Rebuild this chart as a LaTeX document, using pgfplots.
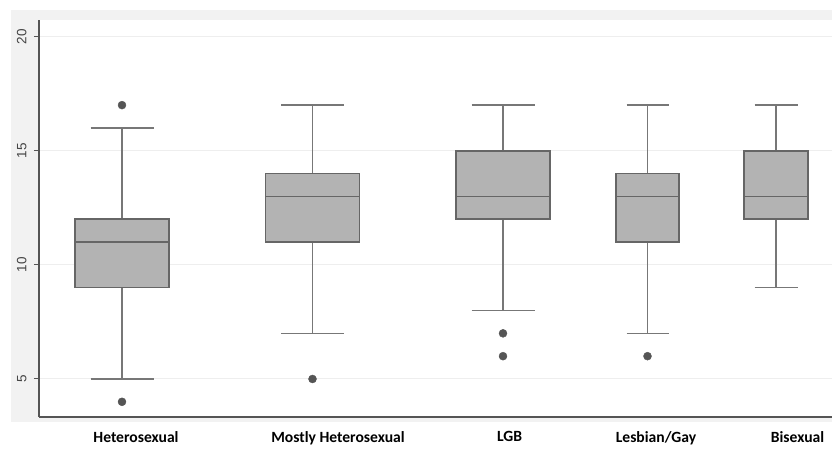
\documentclass[border=0pt]{standalone}
\usepackage{pgfplots}
\pgfplotsset{compat=1.18}
\usepgfplotslibrary{statistics}
\usepackage{fontspec}
\setmainfont{Liberation Sans}
\newfontfamily\calibri{Carlito}
\definecolor{bgray}{HTML}{F2F2F2}
\definecolor{boxfill}{HTML}{B3B3B3}
\definecolor{boxedge}{HTML}{666666}
\definecolor{whisk}{HTML}{777777}
\definecolor{dotc}{HTML}{555555}
\definecolor{gridc}{HTML}{EEEEEE}
\definecolor{axc}{HTML}{555555}
\definecolor{lblc}{HTML}{444444}
\begin{document}
\begin{tikzpicture}
\path[use as bounding box] (0pt,0pt) rectangle (832pt,448pt);
\fill[bgray] (11pt,26pt) rectangle (832pt,438pt);
\begin{axis}[
  at={(39pt,31pt)}, anchor=south west, scale only axis,
  width=793pt, height=397pt,
  xmin=0.39, xmax=8.32, ymin=3.335, ymax=20.73,
  axis background/.style={fill=white},
  axis x line=bottom, axis y line=left,
  axis line style={draw=axc, line width=1.2pt, -},
  xtick={1.36,3.38,5.095,6.56,7.975},
  xticklabels={Heterosexual, Mostly Heterosexual, LGB, Lesbian/Gay, Bisexual},
  xticklabel style={font=\calibri\bfseries\fontsize{15.6}{18}\selectfont, text=black, yshift=-6pt},
  x tick style={draw=none},
  ytick={5,10,15,20},
  y tick style={draw=axc, line width=1pt},
  major tick length=5pt, tick align=outside,
  /pgf/number format/assume math mode=true,
  yticklabel style={font=\fontsize{13.5}{16}\selectfont, text=lblc, xshift=-4pt, rotate=90, anchor=south},
  ymajorgrids, grid style={draw=gridc, line width=1pt},
  boxplot/draw direction=y,
  boxplot/every box/.style={draw=boxedge, fill=boxfill, line width=1.6pt},
  boxplot/every median/.style={draw=boxedge, line width=1.6pt},
  boxplot/every whisker/.style={draw=whisk, line width=1.4pt},
]
\addplot[mark=none, boxplot prepared={draw position=1.22, lower whisker=5, lower quartile=9, median=11, upper quartile=12, upper whisker=16, box extend=0.94, whisker extend=0.63}] coordinates {(0,-50)};
\addplot[mark=none, boxplot prepared={draw position=3.125, lower whisker=7, lower quartile=11, median=13, upper quartile=14, upper whisker=17, box extend=0.94, whisker extend=0.63}] coordinates {(0,-50)};
\addplot[mark=none, boxplot prepared={draw position=5.03, lower whisker=8, lower quartile=12, median=13, upper quartile=15, upper whisker=17, box extend=0.94, whisker extend=0.63}] coordinates {(0,-50)};
\addplot[mark=none, boxplot prepared={draw position=6.475, lower whisker=7, lower quartile=11, median=13, upper quartile=14, upper whisker=17, box extend=0.63, whisker extend=0.42}] coordinates {(0,-50)};
\addplot[mark=none, boxplot prepared={draw position=7.76, lower whisker=9, lower quartile=12, median=13, upper quartile=15, upper whisker=17, box extend=0.64, whisker extend=0.43}] coordinates {(0,-50)};
\addplot[only marks, mark=*, mark size=4pt, mark options={fill=dotc, draw=dotc}] coordinates {(1.22,17) (1.22,4) (3.125,5) (5.03,7) (5.03,6) (6.475,6)};
\end{axis}
\end{tikzpicture}
\end{document}
